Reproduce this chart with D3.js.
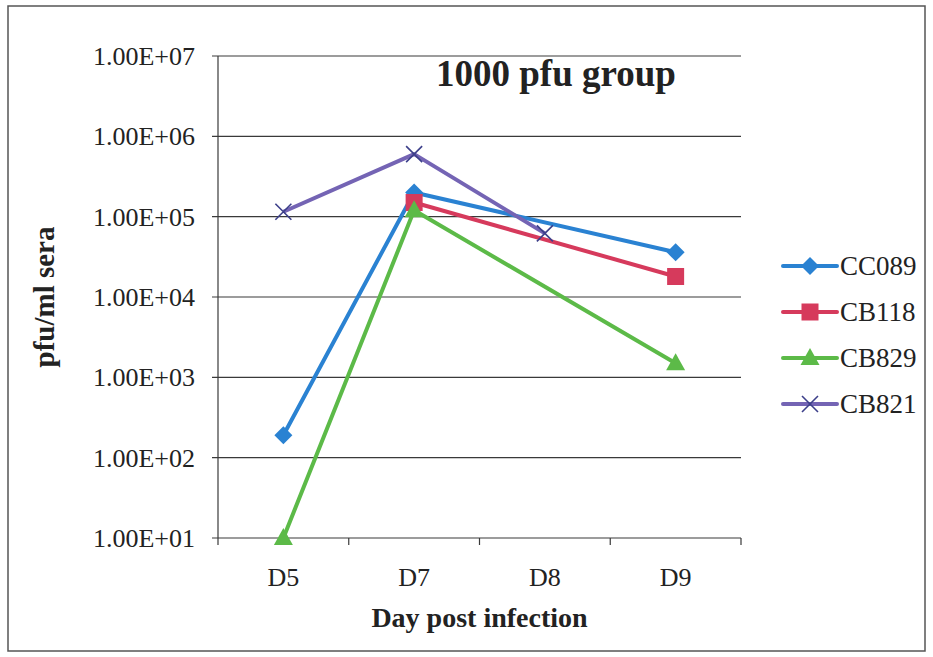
<!DOCTYPE html>
<html>
<head>
<meta charset="utf-8">
<script src="https://cdn.jsdelivr.net/npm/d3@7"></script>
<style>
  body { margin: 0; background: #fff; }
  text { font-family: "Liberation Serif", "Times New Roman", serif; fill: #222; }
</style>
</head>
<body>
<div id="chart"></div>
<script>
// categories and series values (null = not measured, Excel spans the gap)
var days = ["D5", "D7", "D8", "D9"];
var seriesNames = ["CC089", "CB118", "CB829", "CB821"];
var cc089 = [190, 200000, null, 36000];
var cb118 = [null, 150000, null, 18000];
var cb829 = [10, 120000, null, 1500];
var cb821 = [115000, 600000, 62000, null];
var yTicks = [1e1, 1e2, 1e3, 1e4, 1e5, 1e6, 1e7];

var seriesValues = [cc089, cb118, cb829, cb821];
var colors = ["#2a82d2", "#d63a5c", "#5cba48", "#7464b4"];
var shapes = ["diamond", "square", "triangle", "cross"];

var W = 933, H = 657;
var plotLeft = 218, plotRight = 741, plotTop = 56, plotBottom = 538;

var svg = d3.select("#chart").append("svg")
    .attr("width", W)
    .attr("height", H);

// outer frame
svg.append("rect")
    .attr("x", 8).attr("y", 6)
    .attr("width", 917).attr("height", 645)
    .attr("fill", "none")
    .attr("stroke", "#555")
    .attr("stroke-width", 1.5);

var x = d3.scaleBand().domain(days).range([plotLeft, plotRight]);
var y = d3.scaleLog().domain([10, 1e7]).range([plotBottom, plotTop]);

// gridlines + y ticks
svg.append("g")
    .selectAll("line")
    .data(yTicks)
    .enter()
    .append("line")
    .attr("x1", plotLeft - 6)
    .attr("x2", plotRight)
    .attr("y1", function(d) { return y(d); })
    .attr("y2", function(d) { return y(d); })
    .attr("stroke", "#3a3a3a")
    .attr("stroke-width", 1.2);

svg.append("g")
    .selectAll("text")
    .data(yTicks)
    .enter()
    .append("text")
    .attr("x", 195)
    .attr("y", function(d) { return y(d); })
    .attr("dy", "0.35em")
    .attr("text-anchor", "end")
    .style("font-size", "26px")
    .text(function(d) { return d3.format(".2e")(d).replace("e", "E").replace(/E([+-])(\d)$/, "E$10$2"); });

// y axis line
svg.append("line")
    .attr("x1", plotLeft).attr("x2", plotLeft)
    .attr("y1", plotTop).attr("y2", plotBottom)
    .attr("stroke", "#3a3a3a")
    .attr("stroke-width", 1.2);

// x axis ticks at band edges
var edges = days.map(function(d) { return x(d); }).concat([x(days[days.length - 1]) + x.bandwidth()]);
svg.append("g")
    .selectAll("line")
    .data(edges)
    .enter()
    .append("line")
    .attr("x1", function(d) { return d; })
    .attr("x2", function(d) { return d; })
    .attr("y1", plotBottom)
    .attr("y2", plotBottom + 7)
    .attr("stroke", "#3a3a3a")
    .attr("stroke-width", 1.2);

svg.append("g")
    .selectAll("text")
    .data(days)
    .enter()
    .append("text")
    .attr("x", function(d) { return x(d) + x.bandwidth() / 2; })
    .attr("y", 586)
    .attr("text-anchor", "middle")
    .style("font-size", "26px")
    .text(function(d) { return d; });

// axis titles
svg.append("text")
    .attr("x", (plotLeft + plotRight) / 2)
    .attr("y", 627)
    .attr("text-anchor", "middle")
    .style("font-size", "28px")
    .style("font-weight", "bold")
    .text("Day post infection");

svg.append("text")
    .attr("transform", "translate(54," + ((plotTop + plotBottom) / 2) + ") rotate(-90)")
    .attr("text-anchor", "middle")
    .style("font-size", "29px")
    .style("font-weight", "bold")
    .text("pfu/ml sera");

// chart title
svg.append("text")
    .attr("x", 436)
    .attr("y", 86)
    .style("font-size", "37px")
    .style("font-weight", "bold")
    .text("1000 pfu group");

function drawMarker(g, shape, color, cx, cy) {
  if (shape == "diamond") {
    g.append("path")
      .attr("d", "M" + cx + "," + (cy - 9) + "L" + (cx + 9) + "," + cy + "L" + cx + "," + (cy + 9) + "L" + (cx - 9) + "," + cy + "Z")
      .attr("fill", color);
  } else if (shape == "square") {
    g.append("rect")
      .attr("x", cx - 8.5).attr("y", cy - 8.5)
      .attr("width", 17).attr("height", 17)
      .attr("fill", color);
  } else if (shape == "triangle") {
    g.append("path")
      .attr("d", "M" + cx + "," + (cy - 10) + "L" + (cx + 9.5) + "," + (cy + 7) + "L" + (cx - 9.5) + "," + (cy + 7) + "Z")
      .attr("fill", color);
  } else {
    g.append("path")
      .attr("d", "M" + (cx - 8) + "," + (cy - 8) + "L" + (cx + 8) + "," + (cy + 8) + "M" + (cx + 8) + "," + (cy - 8) + "L" + (cx - 8) + "," + (cy + 8))
      .attr("stroke", "#3c3f8a")
      .attr("stroke-width", 1.6)
      .attr("fill", "none");
  }
}

var line = d3.line()
    .x(function(d) { return x(d.day) + x.bandwidth() / 2; })
    .y(function(d) { return y(d.value); });

seriesValues.forEach(function(vals, i) {
  var pts = days.map(function(d, j) { return {day: d, value: vals[j]}; })
      .filter(function(p) { return p.value != null; });
  var g = svg.append("g");
  g.append("path")
    .datum(pts)
    .attr("d", line)
    .attr("fill", "none")
    .attr("stroke", colors[i])
    .attr("stroke-width", 4)
    .attr("stroke-linejoin", "round");
  pts.forEach(function(p) {
    drawMarker(g, shapes[i], colors[i], x(p.day) + x.bandwidth() / 2, y(p.value));
  });
});

// legend
var legend = svg.append("g");
seriesNames.forEach(function(name, i) {
  var ly = 266 + i * 46;
  var g = legend.append("g");
  g.append("line")
    .attr("x1", 783).attr("x2", 837)
    .attr("y1", ly).attr("y2", ly)
    .attr("stroke", colors[i])
    .attr("stroke-width", 4)
    .attr("stroke-linecap", "round");
  drawMarker(g, shapes[i], colors[i], 810, ly);
  g.append("text")
    .attr("x", 840)
    .attr("y", ly)
    .attr("dy", "0.35em")
    .style("font-size", "27px")
    .text(name);
});
</script>
</body>
</html>
